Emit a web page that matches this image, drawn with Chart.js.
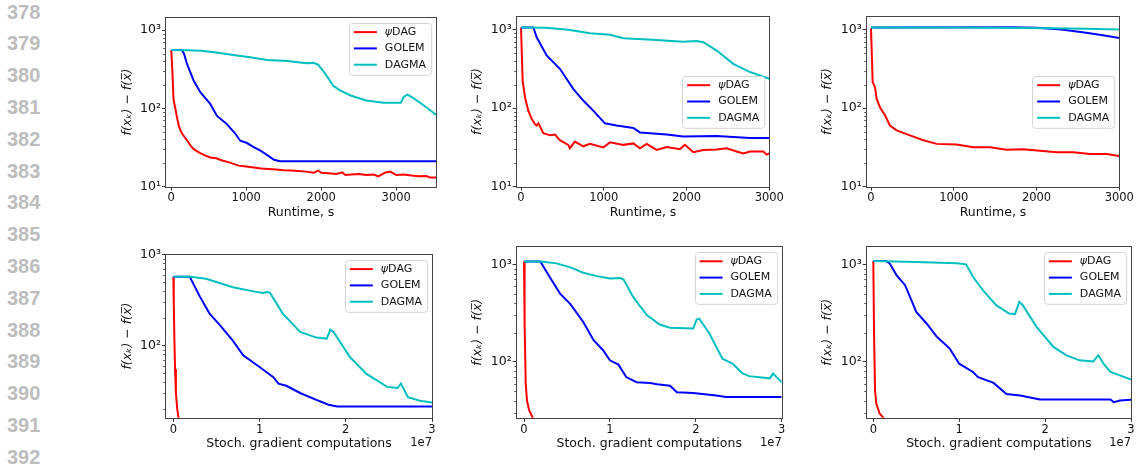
<!DOCTYPE html>
<html>
<head>
<meta charset="utf-8">
<script src="https://cdn.jsdelivr.net/npm/chart.js@4.4.0/dist/chart.umd.min.js"></script>
<style>
html, body { margin: 0; padding: 0; background: #fff; width: 1137px; height: 467px; overflow: hidden; }
body { position: relative; }
canvas { position: absolute; }
.ln { position: absolute; left: 7px; font: bold 20px "Liberation Sans", Arial, sans-serif; color: #bdbdbd; line-height: 20px; height: 20px; }
</style>
</head>
<body>
<div id="lines"></div>
<canvas id="c1"></canvas>
<canvas id="c2"></canvas>
<canvas id="c3"></canvas>
<canvas id="c4"></canvas>
<canvas id="c5"></canvas>
<canvas id="c6"></canvas>
<script>
// margin line numbers of the paper page
const lineNumbers = [378, 379, 380, 381, 382, 383, 384, 385, 386, 387, 388, 389, 390, 391, 392];

const seriesNames = ['ψDAG', 'GOLEM', 'DAGMA'];
const seriesColors = ['#ff0000', '#0000ff', '#00bfbf'];

const runtimeTicks = [0, 1000, 2000, 3000];
const gradTicks = [0, 1e7, 2e7, 3e7];
const yMajors = [10, 100, 1000];

// top row: runtime, s
const p1Psi = [[0,560],[15,300],[30,130],[50,105],[75,78],[100,60],[130,50],[170,44],[210,39],[260,33],[300,30],[380,27],[450,25],[520,23.5],[600,23],[680,21.5],[760,20.5],[830,19.5],[900,18.5],[1000,18],[1100,17.5],[1200,17],[1300,16.8],[1400,16.5],[1500,16.2],[1600,16],[1700,15.8],[1800,15.5],[1900,15],[1960,16],[2000,15],[2100,14.8],[2200,14.5],[2280,15.2],[2320,14],[2400,14.2],[2500,14.5],[2600,14],[2700,14.2],[2760,13.5],[2850,15],[2920,15.5],[3000,14],[3100,14.2],[3200,13.8],[3300,13.5],[3400,13.6],[3450,13],[3530,13]];
const p1Golem = [[0,560],[140,560],[170,500],[210,370],[260,280],[300,226],[390,160],[520,114],[610,80],[740,63],[850,48],[920,38.5],[1010,36],[1100,32],[1190,28.7],[1300,24.5],[1370,22],[1450,21],[3530,21]];
const p1Dagma = [[0,560],[200,555],[400,545],[600,520],[830,483],[1050,450],[1280,417],[1550,405],[1800,378],[1900,382],[1960,360],[2050,280],[2160,195],[2250,170],[2400,145],[2600,126],[2830,118],[3060,118],[3100,140],[3150,150],[3230,135],[3350,112],[3530,83]];

const p2Psi = [[0,1070],[20,225],[48,138],[88,93],[129,73],[170,62],[189,60],[210,64],[270,48],[350,45],[410,46],[470,39],[571,34],[590,30.8],[651,37.4],[752,32.6],[833,35],[994,31.5],[1075,36.6],[1236,34],[1357,35.5],[1437,30.8],[1518,35],[1639,29.3],[1760,32],[1921,30],[1981,34],[2082,27.4],[2203,29.3],[2364,29.6],[2485,30.8],[2606,28],[2686,26.5],[2767,28],[2928,28],[2968,25.5],[3000,26.5]];
const p2Golem = [[0,1070],[150,1070],[189,803],[310,470],[470,318],[631,176],[752,125],[873,93],[1014,64],[1155,60],[1357,56],[1437,49],[1760,46],[1961,43.4],[2364,44],[2767,41.7],[3000,41.5]];
const p2Dagma = [[0,1070],[300,1060],[571,1000],[833,905],[1075,863],[1236,782],[1588,745],[1961,702],[2122,720],[2203,695],[2364,543],[2565,368],[2767,289],[3000,237]];

const p3Psi = [[0,1050],[20,215],[48,185],[68,132],[109,102],[169,81],[229,60],[310,52],[471,45],[632,39],[793,35],[1034,34.4],[1236,31.6],[1437,31.6],[1639,29.5],[1840,29.8],[2041,28.7],[2242,27.4],[2444,27.4],[2646,26],[2847,26],[3000,24.5]];
const p3Golem = [[0,1070],[1700,1075],[2000,1060],[2300,1010],[2600,920],[2800,850],[3000,785]];
const p3Dagma = [[0,1070],[1500,1065],[2200,1050],[2600,1030],[3000,1010]];

// bottom row: stochastic gradient computations
const p4Psi = [[0,570],[5e4,300],[1.2e5,120],[2e5,55],[3e5,30],[4.5e5,20],[6e5,16],[7e5,14]];
const p4Golem = [[0,570],[1.9e6,570],[3.1e6,342],[4.2e6,224],[5.4e6,167],[6.9e6,113],[8.1e6,78],[1.0e7,58],[1.16e7,44.7],[1.22e7,38],[1.31e7,36],[1.47e7,30],[1.7e7,24.3],[1.8e7,22.3],[1.9e7,21.3],[3e7,21.3]];
const p4Dagma = [[0,570],[2e6,568],[3.8e6,540],[6.9e6,437],[9.3e6,393],[1.04e7,378],[1.08e7,386],[1.12e7,380],[1.27e7,224],[1.47e7,141],[1.66e7,122],[1.78e7,119],[1.82e7,149],[1.86e7,140],[2.05e7,74],[2.24e7,48.6],[2.48e7,35],[2.6e7,34],[2.64e7,38],[2.72e7,27],[2.86e7,24.6],[3e7,23.6]];

const p5Psi = [[0,1070],[4e4,600],[1e5,250],[2e5,60],[3.5e5,40],[6e5,32],[1e6,27],[1.3e6,24]];
const p5Golem = [[0,1070],[1.9e6,1070],[3.1e6,717],[4.2e6,502],[5.4e6,391],[6.9e6,257],[8.1e6,167],[9.2e6,132],[1.0e7,104],[1.1e7,94],[1.19e7,70],[1.31e7,62],[1.47e7,61],[1.55e7,59],[1.7e7,57],[1.78e7,49],[1.97e7,48],[2.24e7,45.4],[2.35e7,43.7],[3e7,43.7]];
const p5Dagma = [[0,1070],[1.9e6,1070],[3.8e6,1024],[5.4e6,932],[6.9e6,820],[8.5e6,758],[1.0e7,717],[1.12e7,725],[1.16e7,700],[1.27e7,464],[1.43e7,302],[1.58e7,242],[1.7e7,224],[1.97e7,220],[2.01e7,272],[2.04e7,277],[2.16e7,195],[2.31e7,108],[2.43e7,96],[2.54e7,77],[2.62e7,71.6],[2.86e7,68],[2.9e7,76],[3e7,62]];

const p6Psi = [[0,1080],[8e4,211],[2e5,51],[3.6e5,37],[7.5e5,29.5],[1.14e6,27],[1.3e6,25]];
const p6Golem = [[0,1080],[1.5e6,1080],[1.9e6,1024],[2.7e6,776],[3.7e6,612],[5e6,326],[6.2e6,248],[7.4e6,181],[8.9e6,137],[1.0e7,96],[1.16e7,79],[1.22e7,70],[1.4e7,61],[1.55e7,47],[1.71e7,45.4],[1.94e7,41.3],[2.76e7,41.3],[2.8e7,38.7],[2.87e7,40.3],[3e7,41]];
const p6Dagma = [[0,1080],[5e6,1060],[9.7e6,1024],[1.08e7,1000],[1.16e7,747],[1.28e7,537],[1.43e7,382],[1.58e7,314],[1.65e7,310],[1.7e7,413],[1.74e7,382],[1.9e7,229],[2.1e7,142],[2.25e7,117],[2.4e7,104],[2.56e7,101],[2.62e7,117],[2.68e7,96],[2.76e7,79],[2.87e7,73],[3e7,66]];

const FONT = '"DejaVu Sans", sans-serif';
const SUP = {'0':'⁰','1':'¹','2':'²','3':'³','4':'⁴'};

// margin numbers
const lines = document.getElementById('lines');
lineNumbers.forEach((n, i) => {
  const d = document.createElement('div');
  d.className = 'ln';
  d.style.top = (11.7 + i * 31.79 - 10) + 'px';
  d.textContent = n;
  lines.appendChild(d);
});

const framePlugin = {
  id: 'frame',
  afterDatasetsDraw(chart) {
    const a = chart.chartArea, ctx = chart.ctx;
    ctx.save();
    ctx.strokeStyle = '#444';
    ctx.lineWidth = 1;
    ctx.strokeRect(Math.round(a.left) - 0.5, Math.round(a.top) - 0.5, Math.round(a.right) - Math.round(a.left) + 1, Math.round(a.bottom) - Math.round(a.top) + 1);
    // minor log ticks
    const ys = chart.scales.y;
    ctx.strokeStyle = '#333';
    ctx.lineWidth = 0.8;
    for (let e = Math.floor(Math.log10(ys.min)); e <= Math.ceil(Math.log10(ys.max)); e++) {
      for (let k = 2; k <= 9; k++) {
        const v = k * Math.pow(10, e);
        if (v < ys.min || v > ys.max) continue;
        const py = Math.round(ys.getPixelForValue(v)) + 0.5;
        ctx.beginPath();
        ctx.moveTo(Math.round(a.left) - 0.5, py);
        ctx.lineTo(Math.round(a.left) - 2.8, py);
        ctx.stroke();
      }
    }
    ctx.restore();
  }
};

const legendPlugin = {
  id: 'boxLegend',
  afterDraw(chart, args, opts) {
    const ctx = chart.ctx, a = chart.chartArea, ds = chart.data.datasets;
    ctx.save();
    ctx.font = '11px ' + FONT;
    let tw = 0;
    ds.forEach(d => { tw = Math.max(tw, ctx.measureText(d.label).width); });
    const rowH = 16.3;
    const w = 5 + 23 + 8 + tw + 5;
    const h = 19.2 + rowH * (ds.length - 1);
    const x = a.right - 5 - w;
    const y = opts.loc === 'center' ? (a.top + a.bottom) / 2 - h / 2 : a.top + 5;
    ctx.beginPath();
    ctx.roundRect(Math.round(x) + 0.5, Math.round(y) + 0.5, w, h, 3);
    ctx.fillStyle = 'rgba(255,255,255,0.8)';
    ctx.fill();
    ctx.strokeStyle = '#d4d4d4';
    ctx.lineWidth = 1;
    ctx.stroke();
    ctx.textBaseline = 'middle';
    ctx.fillStyle = '#111';
    ds.forEach((d, i) => {
      const cy = y + 9.6 + i * rowH;
      ctx.strokeStyle = d.borderColor;
      ctx.lineWidth = 2;
      ctx.beginPath();
      ctx.moveTo(x + 5, cy);
      ctx.lineTo(x + 28, cy);
      ctx.stroke();
      let tx = x + 36;
      let txt = d.label;
      if (txt.startsWith('ψ')) {
        ctx.font = 'italic 11px ' + FONT;
        ctx.fillText('ψ', tx, cy);
        tx += ctx.measureText('ψ').width;
        txt = txt.slice(1);
        ctx.font = '11px ' + FONT;
      }
      ctx.fillText(txt, tx, cy);
    });
    ctx.restore();
  }
};

const offsetPlugin = {
  id: 'offsetText',
  afterDraw(chart, args, opts) {
    if (!opts.text) return;
    const ctx = chart.ctx, xs = chart.scales.x;
    ctx.save();
    ctx.font = '11.5px ' + FONT;
    ctx.fillStyle = '#111';
    ctx.textAlign = 'right';
    ctx.textBaseline = 'middle';
    ctx.fillText(opts.text, chart.chartArea.right, xs.bottom - 7.5);
    ctx.restore();
  }
};

const panels = [
  { id: 'c1', l: 166, r: 436, t: 17, b: 185.7, titleX: 128, xMin: -70, xMax: 3530, xTicks: runtimeTicks, yMin: 10, yMax: 1455, data: [p1Psi, p1Golem, p1Dagma], loc: 'upper', xTitle: 'Runtime, s', offset: '', xH: 33.5 },
  { id: 'c2', l: 516.7, r: 769.3, t: 16, b: 186, titleX: 478, xMin: -52, xMax: 3000, xTicks: runtimeTicks, yMin: 10, yMax: 1479, data: [p2Psi, p2Golem, p2Dagma], loc: 'center', xTitle: 'Runtime, s', offset: '', xH: 33.5 },
  { id: 'c3', l: 866.7, r: 1119.3, t: 16, b: 186, titleX: 828, xMin: -52, xMax: 3000, xTicks: runtimeTicks, yMin: 10, yMax: 1479, data: [p3Psi, p3Golem, p3Dagma], loc: 'center', xTitle: 'Runtime, s', offset: '', xH: 33.5 },
  { id: 'c4', l: 166, r: 432, t: 254.3, b: 417.3, titleX: 128, xMin: -0.085e7, xMax: 3e7, xTicks: gradTicks, yMin: 16, yMax: 1000, data: [p4Psi, p4Golem, p4Dagma], loc: 'upper', xTitle: 'Stoch. gradient computations', offset: '1e7', xH: 33.2 },
  { id: 'c5', l: 516.7, r: 781.7, t: 246.7, b: 417.3, titleX: 478, xMin: -0.085e7, xMax: 3e7, xTicks: gradTicks, yMin: 26.8, yMax: 1517, data: [p5Psi, p5Golem, p5Dagma], loc: 'upper', xTitle: 'Stoch. gradient computations', offset: '1e7', xH: 33.2 },
  { id: 'c6', l: 866.7, r: 1131, t: 246.7, b: 417.3, titleX: 827.7, xMin: -0.077e7, xMax: 3e7, xTicks: gradTicks, yMin: 26.8, yMax: 1517, data: [p6Psi, p6Golem, p6Dagma], loc: 'upper', xTitle: 'Stoch. gradient computations', offset: '1e7', xH: 33.2 }
];

panels.forEach(p => {
  const padTop = 8;
  const padR = Math.min(16, 1137 - p.r);
  const left = Math.floor(p.titleX - 8);
  const top = Math.floor(p.t - padTop);
  const width = Math.ceil(p.r + padR - left);
  const height = Math.ceil(p.b + p.xH - top);
  const yW = p.l - left;
  const c = document.getElementById(p.id);
  c.width = width; c.height = height;
  c.style.left = left + 'px'; c.style.top = top + 'px';
  c.style.width = width + 'px'; c.style.height = height + 'px';

  new Chart(c, {
    type: 'line',
    data: {
      datasets: p.data.map((pts, i) => ({
        label: seriesNames[i],
        data: pts.map(q => ({ x: q[0], y: q[1] })),
        borderColor: seriesColors[i],
        backgroundColor: seriesColors[i],
        borderWidth: 2,
        pointRadius: 0,
        tension: 0,
        clip: 0,
        order: 2 - i
      }))
    },
    options: {
      responsive: false,
      animation: false,
      devicePixelRatio: 1,
      layout: { padding: { top: p.t - top, right: width - (p.r - left), left: 0, bottom: 0 } },
      plugins: {
        legend: { display: false },
        tooltip: { enabled: false },
        boxLegend: { loc: p.loc },
        offsetText: { text: p.offset }
      },
      scales: {
        x: {
          type: 'linear',
          min: p.xMin, max: p.xMax,
          afterBuildTicks: s => { s.ticks = p.xTicks.map(v => ({ value: v })); },
          afterFit: s => { s.height = p.xH; },
          grid: { drawOnChartArea: false, drawTicks: true, tickLength: 4, tickColor: '#333', tickWidth: 1 },
          border: { display: false },
          ticks: {
            padding: 1,
            color: '#111',
            font: { family: FONT, size: 11.5 },
            maxRotation: 0,
            callback: v => (p.offset ? String(v / 1e7) : String(v))
          },
          title: { display: true, text: p.xTitle, color: '#111', font: { family: FONT, size: 12.5 }, padding: { top: 0, bottom: 0 } }
        },
        y: {
          type: 'logarithmic',
          min: p.yMin, max: p.yMax,
          afterBuildTicks: s => { s.ticks = yMajors.filter(v => v >= p.yMin && v <= p.yMax).map(v => ({ value: v })); },
          afterFit: s => { s.width = yW; },
          grid: { drawOnChartArea: false, drawTicks: true, tickLength: 4, tickColor: '#333', tickWidth: 1 },
          border: { display: false },
          ticks: {
            padding: 1,
            color: '#111',
            font: { family: FONT, size: 12.5 },
            callback: v => '10' + String(Math.round(Math.log10(v))).split('').map(ch => SUP[ch]).join('')
          },
          title: { display: true, text: 'f(xₖ) − f(x̅)', color: '#111', font: { family: FONT, size: 12.5, style: 'italic' }, padding: { top: p.titleX - left - 7.5, bottom: 0 } }
        }
      }
    },
    plugins: [framePlugin, legendPlugin, offsetPlugin]
  });
});
</script>
</body>
</html>
